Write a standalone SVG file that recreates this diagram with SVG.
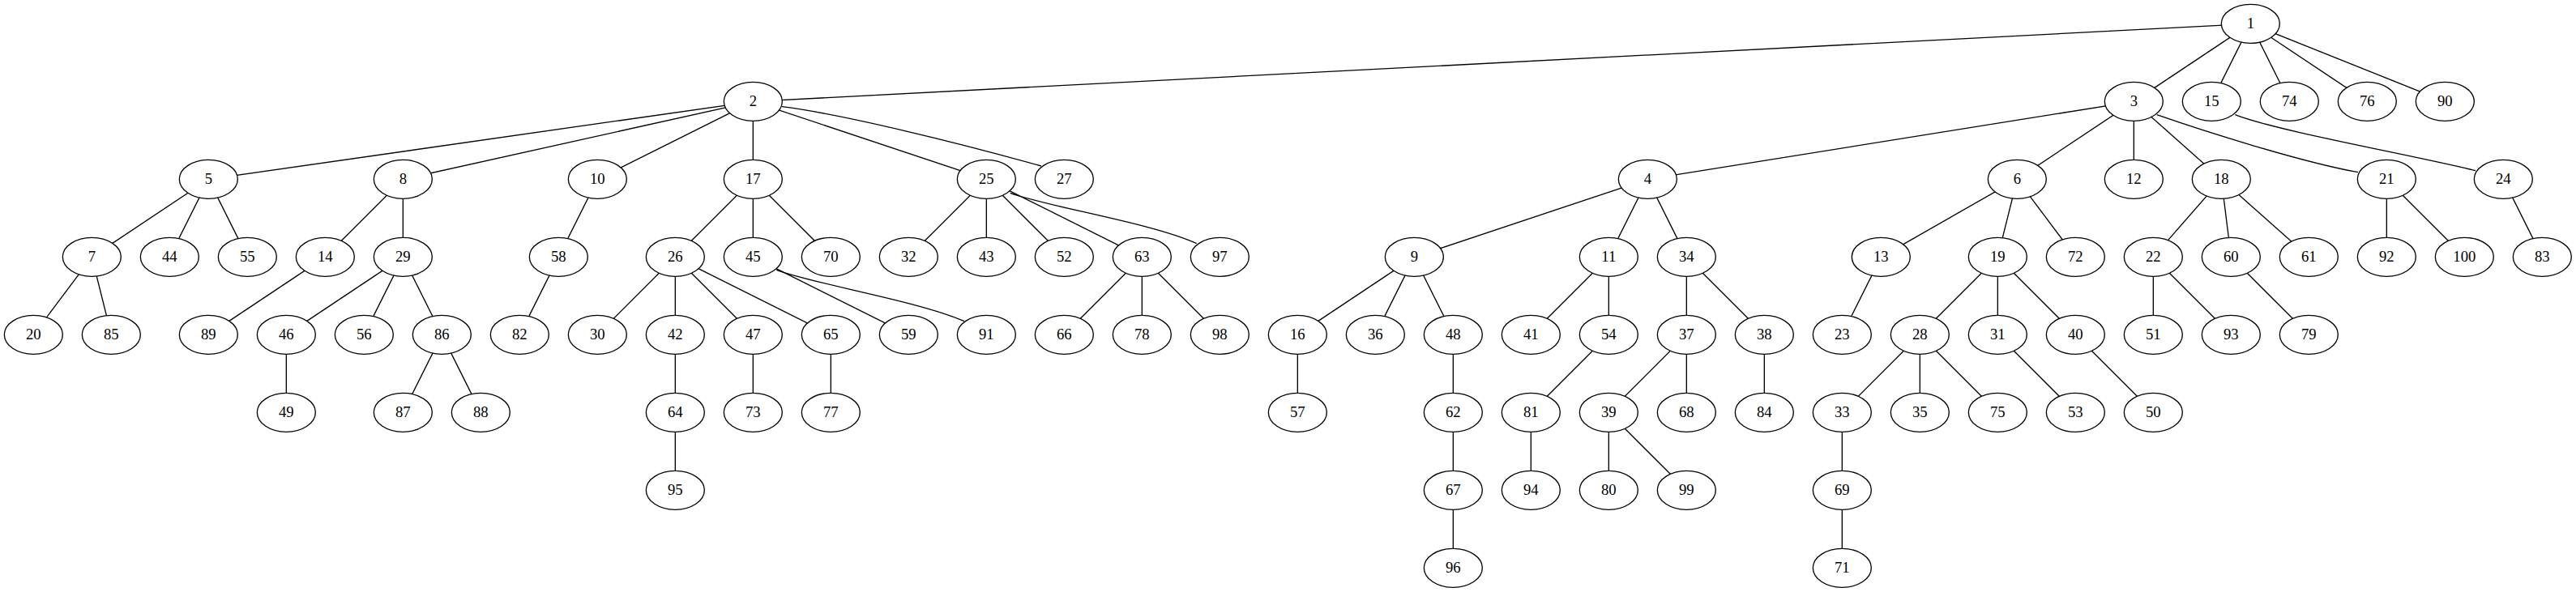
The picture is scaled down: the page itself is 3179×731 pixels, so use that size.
<svg xmlns="http://www.w3.org/2000/svg" width="3179" height="731" viewBox="0 0 3179 731">
<style>
.e line, .e path { stroke: #000; stroke-width: 1.33; fill: none; }
.n ellipse { fill: #fff; stroke: #000; stroke-width: 1.33; }
.n text { font-family: "Liberation Serif", "Times New Roman", serif; font-size: 18.67px; text-anchor: middle; fill: #000; }
</style>
<rect width="3179" height="731" fill="#fff"/>
<g id="edges" class="e">
<line x1="2777.33" y1="29.33" x2="929.33" y2="125.33"/>
<line x1="2777.33" y1="29.33" x2="2633.33" y2="125.33"/>
<line x1="2777.33" y1="29.33" x2="2729.33" y2="125.33"/>
<line x1="2777.33" y1="29.33" x2="2825.33" y2="125.33"/>
<line x1="2777.33" y1="29.33" x2="2921.33" y2="125.33"/>
<line x1="2777.33" y1="29.33" x2="3017.33" y2="125.33"/>
<line x1="929.33" y1="125.33" x2="257.33" y2="221.33"/>
<line x1="929.33" y1="125.33" x2="497.33" y2="221.33"/>
<line x1="929.33" y1="125.33" x2="737.33" y2="221.33"/>
<line x1="929.33" y1="125.33" x2="929.33" y2="221.33"/>
<line x1="929.33" y1="125.33" x2="1217.33" y2="221.33"/>
<path d="M965,131.7 C1040,141 1185,177 1285,205"/>
<line x1="2633.33" y1="125.33" x2="2033.33" y2="221.33"/>
<line x1="2633.33" y1="125.33" x2="2489.33" y2="221.33"/>
<line x1="2633.33" y1="125.33" x2="2633.33" y2="221.33"/>
<line x1="2633.33" y1="125.33" x2="2741.33" y2="221.33"/>
<path d="M2661.7,141.7 C2720,162 2840,200 2910,212.7"/>
<path d="M2758.3,141.7 C2810,162 2980,192 3055,210.7"/>
<line x1="257.33" y1="221.33" x2="113.33" y2="317.33"/>
<line x1="257.33" y1="221.33" x2="209.33" y2="317.33"/>
<line x1="257.33" y1="221.33" x2="305.33" y2="317.33"/>
<line x1="497.33" y1="221.33" x2="401.33" y2="317.33"/>
<line x1="497.33" y1="221.33" x2="497.33" y2="317.33"/>
<line x1="737.33" y1="221.33" x2="689.33" y2="317.33"/>
<line x1="929.33" y1="221.33" x2="833.33" y2="317.33"/>
<line x1="929.33" y1="221.33" x2="929.33" y2="317.33"/>
<line x1="929.33" y1="221.33" x2="1025.33" y2="317.33"/>
<line x1="1217.33" y1="221.33" x2="1121.33" y2="317.33"/>
<line x1="1217.33" y1="221.33" x2="1217.33" y2="317.33"/>
<line x1="1217.33" y1="221.33" x2="1313.33" y2="317.33"/>
<line x1="1217.33" y1="221.33" x2="1409.33" y2="317.33"/>
<path d="M1246.7,238.3 C1295,256 1420,275 1476.7,300.7"/>
<line x1="2033.33" y1="221.33" x2="1745.33" y2="317.33"/>
<line x1="2033.33" y1="221.33" x2="1985.33" y2="317.33"/>
<line x1="2033.33" y1="221.33" x2="2081.33" y2="317.33"/>
<line x1="2489.33" y1="221.33" x2="2321.33" y2="317.33"/>
<line x1="2489.33" y1="221.33" x2="2465.33" y2="317.33"/>
<line x1="2489.33" y1="221.33" x2="2561.33" y2="317.33"/>
<line x1="2741.33" y1="221.33" x2="2657.33" y2="317.33"/>
<line x1="2741.33" y1="221.33" x2="2753.33" y2="317.33"/>
<line x1="2741.33" y1="221.33" x2="2849.33" y2="317.33"/>
<line x1="2945.33" y1="221.33" x2="2945.33" y2="317.33"/>
<line x1="2945.33" y1="221.33" x2="3041.33" y2="317.33"/>
<line x1="3089.33" y1="221.33" x2="3137.33" y2="317.33"/>
<line x1="113.33" y1="317.33" x2="41.33" y2="413.33"/>
<line x1="113.33" y1="317.33" x2="137.33" y2="413.33"/>
<line x1="401.33" y1="317.33" x2="257.33" y2="413.33"/>
<line x1="497.33" y1="317.33" x2="353.33" y2="413.33"/>
<line x1="497.33" y1="317.33" x2="449.33" y2="413.33"/>
<line x1="497.33" y1="317.33" x2="545.33" y2="413.33"/>
<line x1="689.33" y1="317.33" x2="641.33" y2="413.33"/>
<line x1="833.33" y1="317.33" x2="737.33" y2="413.33"/>
<line x1="833.33" y1="317.33" x2="833.33" y2="413.33"/>
<line x1="833.33" y1="317.33" x2="929.33" y2="413.33"/>
<line x1="833.33" y1="317.33" x2="1025.33" y2="413.33"/>
<line x1="929.33" y1="317.33" x2="1121.33" y2="413.33"/>
<path d="M958.3,333.3 C1005,351 1135,372 1190,396.7"/>
<line x1="1409.33" y1="317.33" x2="1313.33" y2="413.33"/>
<line x1="1409.33" y1="317.33" x2="1409.33" y2="413.33"/>
<line x1="1409.33" y1="317.33" x2="1505.33" y2="413.33"/>
<line x1="1745.33" y1="317.33" x2="1601.33" y2="413.33"/>
<line x1="1745.33" y1="317.33" x2="1697.33" y2="413.33"/>
<line x1="1745.33" y1="317.33" x2="1793.33" y2="413.33"/>
<line x1="1985.33" y1="317.33" x2="1889.33" y2="413.33"/>
<line x1="1985.33" y1="317.33" x2="1985.33" y2="413.33"/>
<line x1="2081.33" y1="317.33" x2="2081.33" y2="413.33"/>
<line x1="2081.33" y1="317.33" x2="2177.33" y2="413.33"/>
<line x1="2321.33" y1="317.33" x2="2273.33" y2="413.33"/>
<line x1="2465.33" y1="317.33" x2="2369.33" y2="413.33"/>
<line x1="2465.33" y1="317.33" x2="2465.33" y2="413.33"/>
<line x1="2465.33" y1="317.33" x2="2561.33" y2="413.33"/>
<line x1="2657.33" y1="317.33" x2="2657.33" y2="413.33"/>
<line x1="2657.33" y1="317.33" x2="2753.33" y2="413.33"/>
<line x1="2753.33" y1="317.33" x2="2849.33" y2="413.33"/>
<line x1="353.33" y1="413.33" x2="353.33" y2="509.33"/>
<line x1="545.33" y1="413.33" x2="497.33" y2="509.33"/>
<line x1="545.33" y1="413.33" x2="593.33" y2="509.33"/>
<line x1="833.33" y1="413.33" x2="833.33" y2="509.33"/>
<line x1="929.33" y1="413.33" x2="929.33" y2="509.33"/>
<line x1="1025.33" y1="413.33" x2="1025.33" y2="509.33"/>
<line x1="1601.33" y1="413.33" x2="1601.33" y2="509.33"/>
<line x1="1793.33" y1="413.33" x2="1793.33" y2="509.33"/>
<line x1="1985.33" y1="413.33" x2="1889.33" y2="509.33"/>
<line x1="2081.33" y1="413.33" x2="1985.33" y2="509.33"/>
<line x1="2081.33" y1="413.33" x2="2081.33" y2="509.33"/>
<line x1="2177.33" y1="413.33" x2="2177.33" y2="509.33"/>
<line x1="2369.33" y1="413.33" x2="2273.33" y2="509.33"/>
<line x1="2369.33" y1="413.33" x2="2369.33" y2="509.33"/>
<line x1="2369.33" y1="413.33" x2="2465.33" y2="509.33"/>
<line x1="2465.33" y1="413.33" x2="2561.33" y2="509.33"/>
<line x1="2561.33" y1="413.33" x2="2657.33" y2="509.33"/>
<line x1="833.33" y1="509.33" x2="833.33" y2="605.33"/>
<line x1="1793.33" y1="509.33" x2="1793.33" y2="605.33"/>
<line x1="1889.33" y1="509.33" x2="1889.33" y2="605.33"/>
<line x1="1985.33" y1="509.33" x2="1985.33" y2="605.33"/>
<line x1="1985.33" y1="509.33" x2="2081.33" y2="605.33"/>
<line x1="2273.33" y1="509.33" x2="2273.33" y2="605.33"/>
<line x1="1793.33" y1="605.33" x2="1793.33" y2="701.33"/>
<line x1="2273.33" y1="605.33" x2="2273.33" y2="701.33"/>
</g>
<g id="nodes" class="n">
<g id="n1"><ellipse cx="2777.33" cy="29.33" rx="36" ry="24"/><text x="2777.33" y="35.33">1</text></g>
<g id="n2"><ellipse cx="929.33" cy="125.33" rx="36" ry="24"/><text x="929.33" y="131.33">2</text></g>
<g id="n3"><ellipse cx="2633.33" cy="125.33" rx="36" ry="24"/><text x="2633.33" y="131.33">3</text></g>
<g id="n15"><ellipse cx="2729.33" cy="125.33" rx="36" ry="24"/><text x="2729.33" y="131.33">15</text></g>
<g id="n74"><ellipse cx="2825.33" cy="125.33" rx="36" ry="24"/><text x="2825.33" y="131.33">74</text></g>
<g id="n76"><ellipse cx="2921.33" cy="125.33" rx="36" ry="24"/><text x="2921.33" y="131.33">76</text></g>
<g id="n90"><ellipse cx="3017.33" cy="125.33" rx="36" ry="24"/><text x="3017.33" y="131.33">90</text></g>
<g id="n5"><ellipse cx="257.33" cy="221.33" rx="36" ry="24"/><text x="257.33" y="227.33">5</text></g>
<g id="n8"><ellipse cx="497.33" cy="221.33" rx="36" ry="24"/><text x="497.33" y="227.33">8</text></g>
<g id="n10"><ellipse cx="737.33" cy="221.33" rx="36" ry="24"/><text x="737.33" y="227.33">10</text></g>
<g id="n17"><ellipse cx="929.33" cy="221.33" rx="36" ry="24"/><text x="929.33" y="227.33">17</text></g>
<g id="n25"><ellipse cx="1217.33" cy="221.33" rx="36" ry="24"/><text x="1217.33" y="227.33">25</text></g>
<g id="n27"><ellipse cx="1313.33" cy="221.33" rx="36" ry="24"/><text x="1313.33" y="227.33">27</text></g>
<g id="n4"><ellipse cx="2033.33" cy="221.33" rx="36" ry="24"/><text x="2033.33" y="227.33">4</text></g>
<g id="n6"><ellipse cx="2489.33" cy="221.33" rx="36" ry="24"/><text x="2489.33" y="227.33">6</text></g>
<g id="n12"><ellipse cx="2633.33" cy="221.33" rx="36" ry="24"/><text x="2633.33" y="227.33">12</text></g>
<g id="n18"><ellipse cx="2741.33" cy="221.33" rx="36" ry="24"/><text x="2741.33" y="227.33">18</text></g>
<g id="n21"><ellipse cx="2945.33" cy="221.33" rx="36" ry="24"/><text x="2945.33" y="227.33">21</text></g>
<g id="n24"><ellipse cx="3089.33" cy="221.33" rx="36" ry="24"/><text x="3089.33" y="227.33">24</text></g>
<g id="n7"><ellipse cx="113.33" cy="317.33" rx="36" ry="24"/><text x="113.33" y="323.33">7</text></g>
<g id="n44"><ellipse cx="209.33" cy="317.33" rx="36" ry="24"/><text x="209.33" y="323.33">44</text></g>
<g id="n55"><ellipse cx="305.33" cy="317.33" rx="36" ry="24"/><text x="305.33" y="323.33">55</text></g>
<g id="n14"><ellipse cx="401.33" cy="317.33" rx="36" ry="24"/><text x="401.33" y="323.33">14</text></g>
<g id="n29"><ellipse cx="497.33" cy="317.33" rx="36" ry="24"/><text x="497.33" y="323.33">29</text></g>
<g id="n58"><ellipse cx="689.33" cy="317.33" rx="36" ry="24"/><text x="689.33" y="323.33">58</text></g>
<g id="n26"><ellipse cx="833.33" cy="317.33" rx="36" ry="24"/><text x="833.33" y="323.33">26</text></g>
<g id="n45"><ellipse cx="929.33" cy="317.33" rx="36" ry="24"/><text x="929.33" y="323.33">45</text></g>
<g id="n70"><ellipse cx="1025.33" cy="317.33" rx="36" ry="24"/><text x="1025.33" y="323.33">70</text></g>
<g id="n32"><ellipse cx="1121.33" cy="317.33" rx="36" ry="24"/><text x="1121.33" y="323.33">32</text></g>
<g id="n43"><ellipse cx="1217.33" cy="317.33" rx="36" ry="24"/><text x="1217.33" y="323.33">43</text></g>
<g id="n52"><ellipse cx="1313.33" cy="317.33" rx="36" ry="24"/><text x="1313.33" y="323.33">52</text></g>
<g id="n63"><ellipse cx="1409.33" cy="317.33" rx="36" ry="24"/><text x="1409.33" y="323.33">63</text></g>
<g id="n97"><ellipse cx="1505.33" cy="317.33" rx="36" ry="24"/><text x="1505.33" y="323.33">97</text></g>
<g id="n9"><ellipse cx="1745.33" cy="317.33" rx="36" ry="24"/><text x="1745.33" y="323.33">9</text></g>
<g id="n11"><ellipse cx="1985.33" cy="317.33" rx="36" ry="24"/><text x="1985.33" y="323.33">11</text></g>
<g id="n34"><ellipse cx="2081.33" cy="317.33" rx="36" ry="24"/><text x="2081.33" y="323.33">34</text></g>
<g id="n13"><ellipse cx="2321.33" cy="317.33" rx="36" ry="24"/><text x="2321.33" y="323.33">13</text></g>
<g id="n19"><ellipse cx="2465.33" cy="317.33" rx="36" ry="24"/><text x="2465.33" y="323.33">19</text></g>
<g id="n72"><ellipse cx="2561.33" cy="317.33" rx="36" ry="24"/><text x="2561.33" y="323.33">72</text></g>
<g id="n22"><ellipse cx="2657.33" cy="317.33" rx="36" ry="24"/><text x="2657.33" y="323.33">22</text></g>
<g id="n60"><ellipse cx="2753.33" cy="317.33" rx="36" ry="24"/><text x="2753.33" y="323.33">60</text></g>
<g id="n61"><ellipse cx="2849.33" cy="317.33" rx="36" ry="24"/><text x="2849.33" y="323.33">61</text></g>
<g id="n92"><ellipse cx="2945.33" cy="317.33" rx="36" ry="24"/><text x="2945.33" y="323.33">92</text></g>
<g id="n100"><ellipse cx="3041.33" cy="317.33" rx="36" ry="24"/><text x="3041.33" y="323.33">100</text></g>
<g id="n83"><ellipse cx="3137.33" cy="317.33" rx="36" ry="24"/><text x="3137.33" y="323.33">83</text></g>
<g id="n20"><ellipse cx="41.33" cy="413.33" rx="36" ry="24"/><text x="41.33" y="419.33">20</text></g>
<g id="n85"><ellipse cx="137.33" cy="413.33" rx="36" ry="24"/><text x="137.33" y="419.33">85</text></g>
<g id="n89"><ellipse cx="257.33" cy="413.33" rx="36" ry="24"/><text x="257.33" y="419.33">89</text></g>
<g id="n46"><ellipse cx="353.33" cy="413.33" rx="36" ry="24"/><text x="353.33" y="419.33">46</text></g>
<g id="n56"><ellipse cx="449.33" cy="413.33" rx="36" ry="24"/><text x="449.33" y="419.33">56</text></g>
<g id="n86"><ellipse cx="545.33" cy="413.33" rx="36" ry="24"/><text x="545.33" y="419.33">86</text></g>
<g id="n82"><ellipse cx="641.33" cy="413.33" rx="36" ry="24"/><text x="641.33" y="419.33">82</text></g>
<g id="n30"><ellipse cx="737.33" cy="413.33" rx="36" ry="24"/><text x="737.33" y="419.33">30</text></g>
<g id="n42"><ellipse cx="833.33" cy="413.33" rx="36" ry="24"/><text x="833.33" y="419.33">42</text></g>
<g id="n47"><ellipse cx="929.33" cy="413.33" rx="36" ry="24"/><text x="929.33" y="419.33">47</text></g>
<g id="n65"><ellipse cx="1025.33" cy="413.33" rx="36" ry="24"/><text x="1025.33" y="419.33">65</text></g>
<g id="n59"><ellipse cx="1121.33" cy="413.33" rx="36" ry="24"/><text x="1121.33" y="419.33">59</text></g>
<g id="n91"><ellipse cx="1217.33" cy="413.33" rx="36" ry="24"/><text x="1217.33" y="419.33">91</text></g>
<g id="n66"><ellipse cx="1313.33" cy="413.33" rx="36" ry="24"/><text x="1313.33" y="419.33">66</text></g>
<g id="n78"><ellipse cx="1409.33" cy="413.33" rx="36" ry="24"/><text x="1409.33" y="419.33">78</text></g>
<g id="n98"><ellipse cx="1505.33" cy="413.33" rx="36" ry="24"/><text x="1505.33" y="419.33">98</text></g>
<g id="n16"><ellipse cx="1601.33" cy="413.33" rx="36" ry="24"/><text x="1601.33" y="419.33">16</text></g>
<g id="n36"><ellipse cx="1697.33" cy="413.33" rx="36" ry="24"/><text x="1697.33" y="419.33">36</text></g>
<g id="n48"><ellipse cx="1793.33" cy="413.33" rx="36" ry="24"/><text x="1793.33" y="419.33">48</text></g>
<g id="n41"><ellipse cx="1889.33" cy="413.33" rx="36" ry="24"/><text x="1889.33" y="419.33">41</text></g>
<g id="n54"><ellipse cx="1985.33" cy="413.33" rx="36" ry="24"/><text x="1985.33" y="419.33">54</text></g>
<g id="n37"><ellipse cx="2081.33" cy="413.33" rx="36" ry="24"/><text x="2081.33" y="419.33">37</text></g>
<g id="n38"><ellipse cx="2177.33" cy="413.33" rx="36" ry="24"/><text x="2177.33" y="419.33">38</text></g>
<g id="n23"><ellipse cx="2273.33" cy="413.33" rx="36" ry="24"/><text x="2273.33" y="419.33">23</text></g>
<g id="n28"><ellipse cx="2369.33" cy="413.33" rx="36" ry="24"/><text x="2369.33" y="419.33">28</text></g>
<g id="n31"><ellipse cx="2465.33" cy="413.33" rx="36" ry="24"/><text x="2465.33" y="419.33">31</text></g>
<g id="n40"><ellipse cx="2561.33" cy="413.33" rx="36" ry="24"/><text x="2561.33" y="419.33">40</text></g>
<g id="n51"><ellipse cx="2657.33" cy="413.33" rx="36" ry="24"/><text x="2657.33" y="419.33">51</text></g>
<g id="n93"><ellipse cx="2753.33" cy="413.33" rx="36" ry="24"/><text x="2753.33" y="419.33">93</text></g>
<g id="n79"><ellipse cx="2849.33" cy="413.33" rx="36" ry="24"/><text x="2849.33" y="419.33">79</text></g>
<g id="n49"><ellipse cx="353.33" cy="509.33" rx="36" ry="24"/><text x="353.33" y="515.33">49</text></g>
<g id="n87"><ellipse cx="497.33" cy="509.33" rx="36" ry="24"/><text x="497.33" y="515.33">87</text></g>
<g id="n88"><ellipse cx="593.33" cy="509.33" rx="36" ry="24"/><text x="593.33" y="515.33">88</text></g>
<g id="n64"><ellipse cx="833.33" cy="509.33" rx="36" ry="24"/><text x="833.33" y="515.33">64</text></g>
<g id="n73"><ellipse cx="929.33" cy="509.33" rx="36" ry="24"/><text x="929.33" y="515.33">73</text></g>
<g id="n77"><ellipse cx="1025.33" cy="509.33" rx="36" ry="24"/><text x="1025.33" y="515.33">77</text></g>
<g id="n57"><ellipse cx="1601.33" cy="509.33" rx="36" ry="24"/><text x="1601.33" y="515.33">57</text></g>
<g id="n62"><ellipse cx="1793.33" cy="509.33" rx="36" ry="24"/><text x="1793.33" y="515.33">62</text></g>
<g id="n81"><ellipse cx="1889.33" cy="509.33" rx="36" ry="24"/><text x="1889.33" y="515.33">81</text></g>
<g id="n39"><ellipse cx="1985.33" cy="509.33" rx="36" ry="24"/><text x="1985.33" y="515.33">39</text></g>
<g id="n68"><ellipse cx="2081.33" cy="509.33" rx="36" ry="24"/><text x="2081.33" y="515.33">68</text></g>
<g id="n84"><ellipse cx="2177.33" cy="509.33" rx="36" ry="24"/><text x="2177.33" y="515.33">84</text></g>
<g id="n33"><ellipse cx="2273.33" cy="509.33" rx="36" ry="24"/><text x="2273.33" y="515.33">33</text></g>
<g id="n35"><ellipse cx="2369.33" cy="509.33" rx="36" ry="24"/><text x="2369.33" y="515.33">35</text></g>
<g id="n75"><ellipse cx="2465.33" cy="509.33" rx="36" ry="24"/><text x="2465.33" y="515.33">75</text></g>
<g id="n53"><ellipse cx="2561.33" cy="509.33" rx="36" ry="24"/><text x="2561.33" y="515.33">53</text></g>
<g id="n50"><ellipse cx="2657.33" cy="509.33" rx="36" ry="24"/><text x="2657.33" y="515.33">50</text></g>
<g id="n95"><ellipse cx="833.33" cy="605.33" rx="36" ry="24"/><text x="833.33" y="611.33">95</text></g>
<g id="n67"><ellipse cx="1793.33" cy="605.33" rx="36" ry="24"/><text x="1793.33" y="611.33">67</text></g>
<g id="n94"><ellipse cx="1889.33" cy="605.33" rx="36" ry="24"/><text x="1889.33" y="611.33">94</text></g>
<g id="n80"><ellipse cx="1985.33" cy="605.33" rx="36" ry="24"/><text x="1985.33" y="611.33">80</text></g>
<g id="n99"><ellipse cx="2081.33" cy="605.33" rx="36" ry="24"/><text x="2081.33" y="611.33">99</text></g>
<g id="n69"><ellipse cx="2273.33" cy="605.33" rx="36" ry="24"/><text x="2273.33" y="611.33">69</text></g>
<g id="n96"><ellipse cx="1793.33" cy="701.33" rx="36" ry="24"/><text x="1793.33" y="707.33">96</text></g>
<g id="n71"><ellipse cx="2273.33" cy="701.33" rx="36" ry="24"/><text x="2273.33" y="707.33">71</text></g>
</g>
</svg>
